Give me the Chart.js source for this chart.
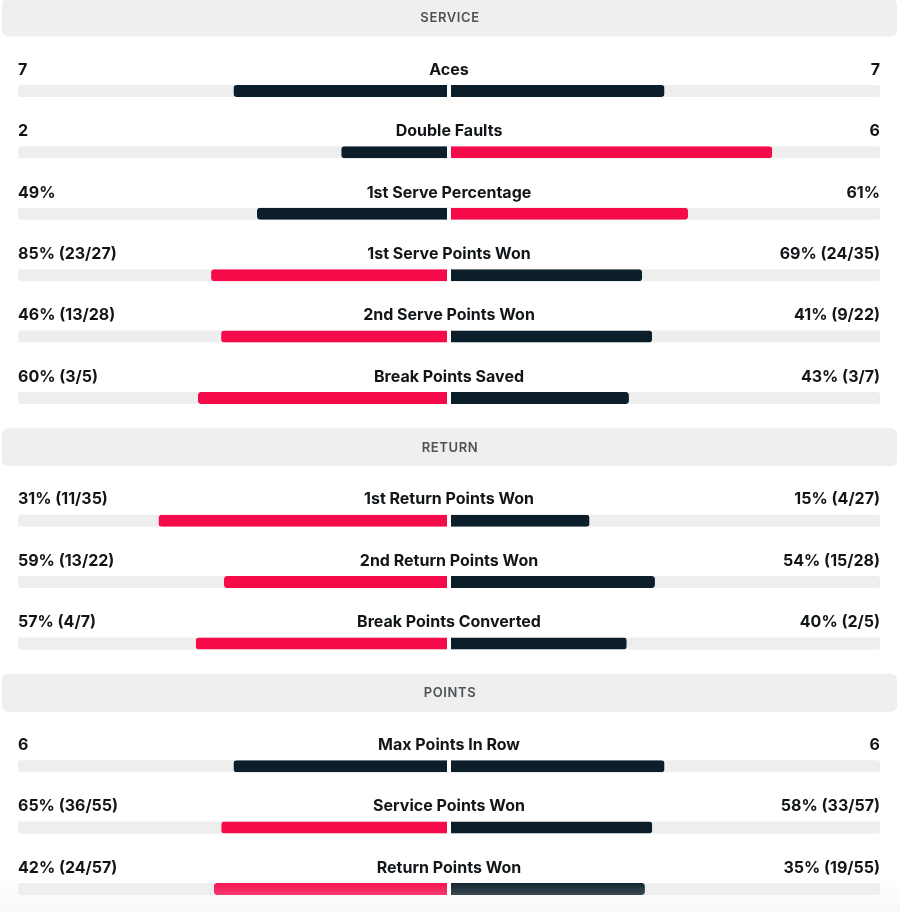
<!DOCTYPE html>
<html>
<head>
<meta charset="utf-8">
<script src="https://cdn.jsdelivr.net/npm/chart.js@4.4.0/dist/chart.umd.min.js"></script>
<style>
  html, body { margin: 0; padding: 0; background: #fff; }
  #wrap { width: 900px; height: 912px; }
</style>
</head>
<body>
<div id="wrap"><canvas id="statsChart" width="900" height="912"></canvas></div>
<script>
// sections and their stat rows
const sections = ['SERVICE', 'RETURN', 'POINTS'];
const sectionStats = [
    ['Aces', 'Double Faults', '1st Serve Percentage', '1st Serve Points Won', '2nd Serve Points Won', 'Break Points Saved'],
    ['1st Return Points Won', '2nd Return Points Won', 'Break Points Converted'],
    ['Max Points In Row', 'Service Points Won', 'Return Points Won']
];

// values used for the bars (player 1 / player 2)
const leftValues  = [7, 2, 49, 85, 46, 60, 31, 59, 57, 6, 65, 42];
const rightValues = [7, 6, 61, 69, 41, 43, 15, 54, 40, 6, 58, 35];

// text shown on each side
const leftLabels  = ['7', '2', '49%', '85% (23/27)', '46% (13/28)', '60% (3/5)', '31% (11/35)', '59% (13/22)', '57% (4/7)', '6', '65% (36/55)', '42% (24/57)'];
const rightLabels = ['7', '6', '61%', '69% (24/35)', '41% (9/22)', '43% (3/7)', '15% (4/27)', '54% (15/28)', '40% (2/5)', '6', '58% (33/57)', '35% (19/55)'];

const RED = '#f50a4a';
const DARK = '#0b1e2a';
const TRACK = '#eeeeee';

// build the row list: a header row, then its stats
let rows = [];
let statIndex = 0;
sections.forEach((name, s) => {
    rows.push({ header: true, name: name });
    sectionStats[s].forEach(stat => {
        rows.push({ header: false, name: stat, i: statIndex });
        statIndex++;
    });
});

let labels = rows.map(r => r.name);
let trackData = rows.map(r => r.header ? null : [-1, 1]);
let leftData = rows.map(r => {
    if (r.header) return null;
    let a = leftValues[r.i], b = rightValues[r.i];
    return [-a / (a + b), 0];
});
let rightData = rows.map(r => {
    if (r.header) return null;
    let a = leftValues[r.i], b = rightValues[r.i];
    return [0, b / (a + b)];
});
let leftColors = rows.map(r => r.header ? DARK : (leftValues[r.i] > rightValues[r.i] ? RED : DARK));
let rightColors = rows.map(r => r.header ? DARK : (rightValues[r.i] > leftValues[r.i] ? RED : DARK));

// draws section headers, stat names and values
const textPlugin = {
    id: 'textPlugin',
    beforeDatasetsDraw(chart) {
        const ctx = chart.ctx;
        const y = chart.scales.y;
        ctx.save();
        rows.forEach((r, idx) => {
            if (!r.header) return;
            let cy = y.getPixelForValue(idx) - 12;
            ctx.fillStyle = '#efefef';
            ctx.beginPath();
            ctx.roundRect(2, cy - 19, 895, 38, 6);
            ctx.fill();
            ctx.fillStyle = '#4d5256';
            ctx.font = '600 13px Inter';
            ctx.letterSpacing = '0.6px';
            ctx.textAlign = 'center';
            ctx.textBaseline = 'middle';
            ctx.fillText(r.name, 450, cy + 0.5);
            ctx.letterSpacing = '0px';
        });
        ctx.restore();
    },
    afterDatasetsDraw(chart) {
        const ctx = chart.ctx;
        const y = chart.scales.y;
        const area = chart.chartArea;
        ctx.save();
        ctx.fillStyle = '#111518';
        ctx.font = '650 16px Inter';
        ctx.textBaseline = 'middle';
        rows.forEach((r, idx) => {
            if (r.header) return;
            let ty = y.getPixelForValue(idx) - 21;
            ctx.textAlign = 'left';
            ctx.fillText(leftLabels[r.i], area.left, ty);
            ctx.textAlign = 'center';
            ctx.fillText(r.name, 449, ty);
            ctx.textAlign = 'right';
            ctx.fillText(rightLabels[r.i], area.right, ty);
        });
        // soft fade at the bottom edge
        let g = ctx.createLinearGradient(0, 880, 0, 912);
        g.addColorStop(0, 'rgba(238,238,238,0)');
        g.addColorStop(1, 'rgba(238,238,238,0.45)');
        ctx.fillStyle = g;
        ctx.fillRect(0, 880, 900, 32);
        ctx.restore();
    }
};

let ctx = document.getElementById('statsChart').getContext('2d');
let statsChart = new Chart(ctx, {
    type: 'bar',
    data: {
        labels: labels,
        datasets: [{
            label: 'track',
            data: trackData,
            backgroundColor: TRACK,
            borderRadius: 3,
            borderSkipped: false,
            order: 3
        }, {
            label: 'Player 1',
            data: leftData,
            backgroundColor: leftColors,
            borderColor: '#ffffff',
            borderWidth: { left: 0, right: 2, top: 0, bottom: 0 },
            borderRadius: { topLeft: 3, bottomLeft: 3, topRight: 0, bottomRight: 0 },
            borderSkipped: false,
            order: 1
        }, {
            label: 'Player 2',
            data: rightData,
            backgroundColor: rightColors,
            borderColor: '#ffffff',
            borderWidth: { left: 2, right: 0, top: 0, bottom: 0 },
            borderRadius: { topLeft: 0, bottomLeft: 0, topRight: 3, bottomRight: 3 },
            borderSkipped: false,
            order: 1
        }]
    },
    options: {
        indexAxis: 'y',
        responsive: false,
        animation: false,
        layout: {
            padding: { left: 18, right: 20, top: 29.6, bottom: 23 }
        },
        datasets: {
            bar: {
                grouped: false,
                barThickness: 12,
                inflateAmount: 0,
                clip: false
            }
        },
        scales: {
            x: { display: false, min: -1, max: 1 },
            y: { display: false, offset: false, grid: { display: false } }
        },
        plugins: {
            legend: { display: false },
            tooltip: { enabled: false }
        }
    },
    plugins: [textPlugin]
});
</script>
</body>
</html>
